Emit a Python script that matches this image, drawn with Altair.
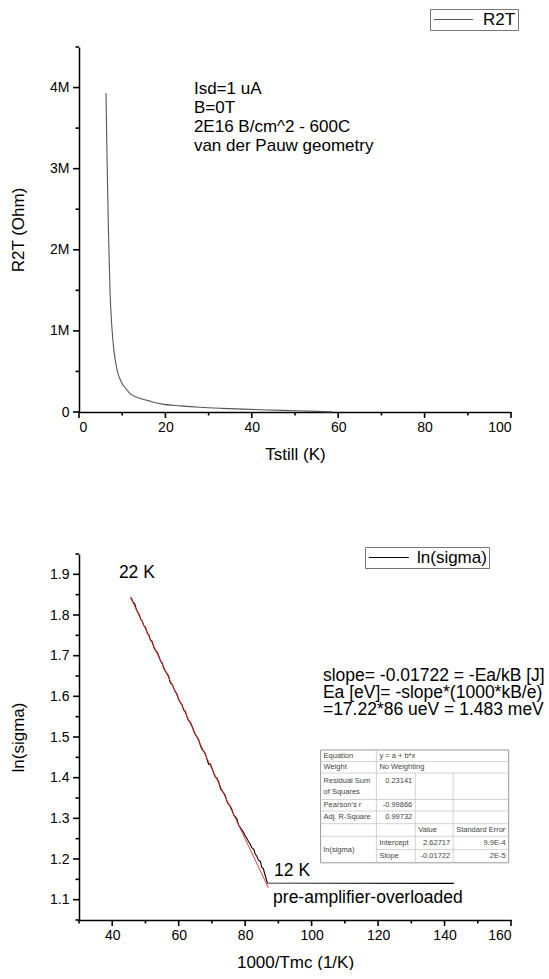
import altair as alt
import pandas as pd

FONT = "Liberation Sans"

# ---------------- top panel data ----------------
T_still = [6.25, 6.5, 6.8, 7.2, 7.6, 8.1, 8.8, 9.7, 10.8, 12, 14, 16, 19, 23.6,
           28, 33, 38, 44, 50, 55, 58.5]
R2T_M = [3.93, 3.1, 2.27, 1.46, 1.05, 0.75, 0.52, 0.38, 0.29, 0.22, 0.17, 0.14,
         0.10, 0.075, 0.058, 0.045, 0.035, 0.025, 0.016, 0.008, 0.002]
top_notes = ["Isd=1 uA", "B=0T", "2E16 B/cm^2 - 600C", "van der Pauw geometry"]

# ---------------- bottom panel data ----------------
inv_T = [45.7, 46.2, 46.8, 47.3, 48, 48.6, 49, 49.5, 50, 50.6, 51, 51.5, 52, 52.6,
         53, 53.5, 54, 54.6, 55, 55.5, 56, 56.6, 57, 57.5, 58, 58.6, 59, 59.5, 60,
         60.6, 61, 61.5, 62, 62.6, 63, 63.5, 64, 64.6, 65, 65.5, 66, 66.6, 67, 67.5,
         68, 68.6, 69, 69.5, 70, 70.6, 71, 71.5, 72, 72.6, 73, 73.5, 74, 74.6, 75,
         75.5, 76, 76.6, 77, 77.5, 78, 78.6, 79, 79.5, 80, 80.6, 81, 81.5, 82, 82.6,
         83, 83.5, 84, 84.6, 85, 85.5, 85.8, 86.3, 86.7, 142.8]
ln_sigma = [1.843, 1.832, 1.827, 1.812, 1.803, 1.789, 1.786, 1.774, 1.770, 1.754,
            1.752, 1.738, 1.735, 1.719, 1.713, 1.709, 1.699, 1.686, 1.683, 1.669,
            1.662, 1.655, 1.649, 1.633, 1.630, 1.618, 1.612, 1.605, 1.592, 1.583,
            1.580, 1.566, 1.563, 1.547, 1.540, 1.536, 1.527, 1.513, 1.506, 1.500,
            1.493, 1.478, 1.470, 1.466, 1.459, 1.443, 1.433, 1.434, 1.424, 1.410,
            1.402, 1.399, 1.390, 1.373, 1.368, 1.363, 1.356, 1.340, 1.334, 1.330,
            1.322, 1.307, 1.304, 1.299, 1.284, 1.277, 1.272, 1.266, 1.257, 1.250,
            1.243, 1.237, 1.228, 1.224, 1.213, 1.207, 1.197, 1.194, 1.179, 1.176,
            1.166, 1.152, 1.141, 1.140]
fit_x = [45.5, 87.0]
fit_y = [1.8437, 1.1290]
slope_notes = ["slope= -0.01722 = -Ea/kB [J]", "Ea [eV]= -slope*(1000*kB/e)",
               "=17.22*86 ueV = 1.483 meV"]
label_22K = "22 K"
label_12K = "12 K"
label_overload = "pre-amplifier-overloaded"

# fit-report table contents
tbl_col1 = ["Equation", "Weight", "Residual Sum", "of Squares", "Pearson's r",
            "Adj. R-Square", "ln(sigma)"]
tbl_col2 = ["y = a + b*x", "No Weighting", "0.23141", "-0.99866", "0.99732",
            "Intercept", "Slope"]
tbl_col3 = ["Value", "2.62717", "-0.01722"]
tbl_col4 = ["Standard Error", "9.9E-4", "2E-5"]

# axis tick values (major / minor)
top_x_major, top_x_minor = list(range(0, 101, 20)), list(range(10, 100, 20))
top_y_major, top_y_minor = [0, 1, 2, 3, 4], [0.5, 1.5, 2.5, 3.5, 4.5]
bot_x_major, bot_x_minor = list(range(40, 161, 20)), list(range(30, 160, 20))
bot_y_major = [round(1.1 + 0.1 * i, 1) for i in range(9)]
bot_y_minor = [round(1.05 + 0.1 * i, 2) for i in range(10)]

# ---------------- layout constants ----------------
W, H_TOP, H_BOT = 432, 365, 366
MAJ, MIN = 6, 3.5
TICK_W = 1.6
tbl_x = [102.7, 119.5, 131.2, 142.6, 159.3]        # column edges (data units)
tbl_top, tbl_unit = 1.468, 0.0283                  # top edge, row unit (data units)
row_units = [1, 1, 2.3, 1, 1.1, 1.1, 1.15, 1.15]
edges = [tbl_top]
for u in row_units:
    edges.append(edges[-1] - u * tbl_unit)


def mid(i):
    return (edges[i] + edges[i + 1]) / 2


axis_common = dict(grid=False, domainColor="black", domainWidth=1.5, ticks=False,
                   labelFont=FONT, labelFontSize=14, labelColor="black",
                   titleFont=FONT, titleFontSize=17, titleFontWeight="normal",
                   titleColor="black")

# legend line symbol: a horizontal stroke drawn to the right of the entry origin
LEG_PATH = "M-1,0H5"


def tick_layers(xvals_major, xvals_minor, yvals_major, yvals_minor, xs, ys, h):
    """Outward axis tick marks drawn through the panel's own scales."""
    layers = []
    for vals, size in ((xvals_major, MAJ), (xvals_minor, MIN)):
        d = pd.DataFrame({"v": vals})
        layers.append(alt.Chart(d).mark_tick(
            orient="vertical", size=size, thickness=TICK_W, color="black", opacity=1
        ).encode(x=alt.X("v:Q", scale=xs, axis=None), y=alt.value(h + size / 2)))
    for vals, size in ((yvals_major, MAJ), (yvals_minor, MIN)):
        d = pd.DataFrame({"v": vals})
        layers.append(alt.Chart(d).mark_tick(
            orient="horizontal", size=size, thickness=TICK_W, color="black", opacity=1
        ).encode(y=alt.Y("v:Q", scale=ys, axis=None), x=alt.value(-size / 2)))
    return layers


# ================= TOP PANEL =================
top_df = pd.DataFrame({"T": T_still, "R": R2T_M, "s1": "R2T"})
xs_top = alt.Scale(domain=[0, 100], nice=False, zero=False)
ys_top = alt.Scale(domain=[0, 4.5], nice=False)

x_top_axis = alt.Axis(orient="bottom", title="Tstill (K)", values=top_x_major,
                      format="d", labelPadding=2 + MAJ, titlePadding=12,
                      **axis_common)
y_top_axis = alt.Axis(
    orient="left", title="R2T (Ohm)", values=top_y_major,
    labelExpr="datum.value === 0 ? '0' : datum.value + 'M'",
    labelPadding=4 + MAJ, titlePadding=22, **axis_common)

top_line = alt.Chart(top_df).mark_line(strokeWidth=1.1, interpolate="monotone").encode(
    x=alt.X("T:Q", scale=xs_top, axis=x_top_axis),
    y=alt.Y("R:Q", scale=ys_top, axis=y_top_axis),
    color=alt.Color("s1:N", scale=alt.Scale(domain=["R2T"], range=["#555555"]),
                    legend=alt.Legend(orient="none", legendX=351, legendY=-38,
                                      title=None, symbolType=LEG_PATH,
                                      symbolSize=170, symbolStrokeWidth=1,
                                      symbolStrokeColor="#888888",
                                      strokeColor="#777777", fillColor="white",
                                      padding=2, labelFont=FONT, labelFontSize=17,
                                      labelColor="black", labelOffset=34)),
    order="T:Q",
)

top_notes_df = pd.DataFrame({"T": [26.6] * 4, "R": [3.92, 3.69, 3.45, 3.22],
                             "t": top_notes})
top_text = alt.Chart(top_notes_df).mark_text(
    align="left", baseline="alphabetic", font=FONT, fontSize=17, color="black"
).encode(x=alt.X("T:Q", scale=xs_top, axis=None),
         y=alt.Y("R:Q", scale=ys_top, axis=None), text="t:N")

top = alt.layer(
    top_line, top_text,
    *tick_layers(top_x_major, top_x_minor, top_y_major, top_y_minor,
                 xs_top, ys_top, H_TOP)
).resolve_axis(x="independent", y="independent").properties(width=W, height=H_TOP)

# ================= BOTTOM PANEL =================
xs_b = alt.Scale(domain=[30, 160], nice=False, zero=False)
ys_b = alt.Scale(domain=[1.05, 1.95], nice=False, zero=False)

x_b_axis = alt.Axis(orient="bottom", title="1000/Tmc (1/K)", values=bot_x_major,
                    format="d", labelPadding=2 + MAJ, titlePadding=12, **axis_common)
y_b_axis = alt.Axis(orient="left", title="ln(sigma)", values=bot_y_major,
                    format=".1f", labelPadding=4 + MAJ, titlePadding=22,
                    **axis_common)


def bx(field="x:Q"):
    return alt.X(field, scale=xs_b, axis=None)


def by(field="y:Q"):
    return alt.Y(field, scale=ys_b, axis=None)


bot_df = pd.DataFrame({"x": inv_T, "y": ln_sigma, "s2": "ln(sigma)"})
data_line = alt.Chart(bot_df).mark_line(strokeWidth=1.1).encode(
    x=alt.X("x:Q", scale=xs_b, axis=x_b_axis),
    y=alt.Y("y:Q", scale=ys_b, axis=y_b_axis),
    color=alt.Color("s2:N", scale=alt.Scale(domain=["ln(sigma)"], range=["black"]),
                    legend=alt.Legend(orient="none", legendX=286, legendY=-7,
                                      title=None, symbolType=LEG_PATH,
                                      symbolSize=178, symbolStrokeWidth=1,
                                      symbolStrokeColor="#888888",
                                      strokeColor="#777777", fillColor="white",
                                      padding=2, labelFont=FONT, labelFontSize=17,
                                      labelColor="black", labelOffset=33)),
    order="x:Q",
)

fit_df = pd.DataFrame({"x": fit_x, "y": fit_y})
fit_line = alt.Chart(fit_df).mark_line(color="#ff2020", strokeWidth=0.9).encode(
    x=bx(), y=by())

notes_df = pd.DataFrame({
    "x": [42.0, 88.7, 88.4, 103.4, 103.4, 103.4],
    "y": [1.890, 1.158, 1.092, 1.638, 1.596, 1.554],
    "t": [label_22K, label_12K, label_overload] + slope_notes,
})
notes = alt.Chart(notes_df).mark_text(
    align="left", baseline="alphabetic", font=FONT, fontSize=17.5, color="black"
).encode(x=bx(), y=by(), text="t:N")

# table background
bg_df = pd.DataFrame({"x": [tbl_x[0]], "x2": [tbl_x[4]], "y": [edges[0]], "y2": [edges[-1]]})
tbl_bg = alt.Chart(bg_df).mark_rect(fill="white", stroke="#999999", strokeWidth=1).encode(
    x=bx(), x2="x2:Q", y=by(), y2="y2:Q")

# table grid lines
segs = []
for i in range(1, len(edges) - 1):
    x0 = tbl_x[1] if i == 7 else tbl_x[0]
    segs.append((x0, tbl_x[4], edges[i], edges[i]))
segs.append((tbl_x[1], tbl_x[1], edges[0], edges[-1]))
segs.append((tbl_x[2], tbl_x[2], edges[2], edges[-1]))
segs.append((tbl_x[3], tbl_x[3], edges[2], edges[-1]))
seg_df = pd.DataFrame(segs, columns=["x", "x2", "y", "y2"])
tbl_lines = alt.Chart(seg_df).mark_rule(color="#c8c8c8", strokeWidth=0.8).encode(
    x=bx(), x2="x2:Q", y=by(), y2="y2:Q")

# table text
r2_up = edges[2] - 0.65 * tbl_unit
r2_lo = edges[2] - 1.65 * tbl_unit
left_cells = [
    (tbl_x[0], mid(0), tbl_col1[0]), (tbl_x[0], mid(1), tbl_col1[1]),
    (tbl_x[0], r2_up, tbl_col1[2]), (tbl_x[0], r2_lo, tbl_col1[3]),
    (tbl_x[0], mid(3), tbl_col1[4]), (tbl_x[0], mid(4), tbl_col1[5]),
    (tbl_x[0], edges[7], tbl_col1[6]),
    (tbl_x[1], mid(0), tbl_col2[0]), (tbl_x[1], mid(1), tbl_col2[1]),
    (tbl_x[1], mid(6), tbl_col2[5]), (tbl_x[1], mid(7), tbl_col2[6]),
    (tbl_x[2], mid(5), tbl_col3[0]), (tbl_x[3], mid(5), tbl_col4[0]),
]
right_cells = [
    (tbl_x[2], r2_up, tbl_col2[2]), (tbl_x[2], mid(3), tbl_col2[3]),
    (tbl_x[2], mid(4), tbl_col2[4]),
    (tbl_x[3], mid(6), tbl_col3[1]), (tbl_x[3], mid(7), tbl_col3[2]),
    (tbl_x[4], mid(6), tbl_col4[1]), (tbl_x[4], mid(7), tbl_col4[2]),
]
lc_df = pd.DataFrame(left_cells, columns=["x", "y", "t"])
rc_df = pd.DataFrame(right_cells, columns=["x", "y", "t"])
tbl_text_l = alt.Chart(lc_df).mark_text(
    align="left", baseline="middle", dx=3, font=FONT, fontSize=7.5, color="#444444"
).encode(x=bx(), y=by(), text="t:N")
tbl_text_r = alt.Chart(rc_df).mark_text(
    align="right", baseline="middle", dx=-3, font=FONT, fontSize=7.5, color="#444444"
).encode(x=bx(), y=by(), text="t:N")

bottom = alt.layer(
    data_line, fit_line, notes, tbl_bg, tbl_lines, tbl_text_l, tbl_text_r,
    *tick_layers(bot_x_major, bot_x_minor, bot_y_major, bot_y_minor, xs_b, ys_b, H_BOT)
).resolve_axis(x="independent", y="independent").properties(width=W, height=H_BOT)

chart = alt.vconcat(top, bottom, spacing=84).resolve_scale(
    color="independent").properties(
    padding={"left": 9, "top": 8, "right": 0, "bottom": 0}
).configure_view(stroke=None)

chart.save("out.html", embed_options={"renderer": "svg", "actions": False})
